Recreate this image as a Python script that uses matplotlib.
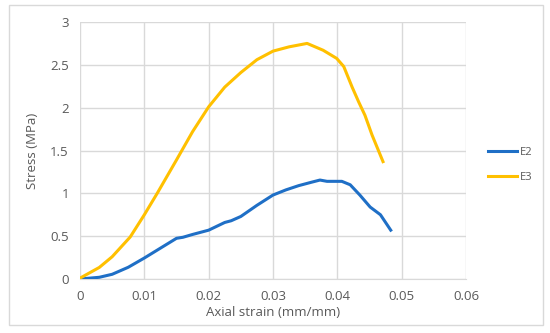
import matplotlib
matplotlib.use("Agg")
import matplotlib.pyplot as plt
from matplotlib.patches import Rectangle

plt.rcParams['font.family'] = ['Open Sans', 'DejaVu Sans']

e2_x = [0, 0.003, 0.005, 0.0075, 0.010, 0.0125, 0.015, 0.016, 0.0175, 0.020, 0.0225, 0.0235,
        0.025, 0.0275, 0.030, 0.032, 0.034, 0.036, 0.0373, 0.0384, 0.0407, 0.042, 0.0435,
        0.0451, 0.0467, 0.0483]
e2_y = [0, 0.02, 0.055, 0.137, 0.245, 0.36, 0.475, 0.487, 0.52, 0.57, 0.66, 0.68,
        0.73, 0.86, 0.98, 1.04, 1.09, 1.13, 1.155, 1.14, 1.14, 1.10, 0.98,
        0.84, 0.75, 0.57]

e3_x = [0, 0.003, 0.005, 0.0078, 0.010, 0.012, 0.015, 0.0175, 0.020, 0.0225, 0.025,
        0.0275, 0.030, 0.0325, 0.0353, 0.0378, 0.0399, 0.041, 0.0423, 0.0433, 0.0443,
        0.0454, 0.0471]
e3_y = [0.01, 0.135, 0.26, 0.49, 0.75, 1.0, 1.39, 1.72, 2.01, 2.24, 2.41,
        2.56, 2.66, 2.71, 2.75, 2.67, 2.575, 2.48, 2.24, 2.07, 1.91,
        1.68, 1.37]

x_ticks = [0, 0.01, 0.02, 0.03, 0.04, 0.05, 0.06]
x_labels = ['0', '0.01', '0.02', '0.03', '0.04', '0.05', '0.06']
y_ticks = [0, 0.5, 1, 1.5, 2, 2.5, 3]
y_labels = ['0', '0.5', '1', '1.5', '2', '2.5', '3']

fig = plt.figure(figsize=(5.5, 3.33), dpi=100)
fig.patches.append(Rectangle((9/550, 1 - 325/333), 534/550, 320/333, transform=fig.transFigure,
                             fill=False, edgecolor='#d9d9d9', linewidth=1))
ax = fig.add_axes([80/550, 1 - 279/333, 386/550, 257/333])

grid_c = '#d9d9d9'
ax.plot(e2_x, e2_y, color='#1f6fc6', lw=2.2, label='E2', solid_joinstyle='round', zorder=3)
ax.plot(e3_x, e3_y, color='#ffc000', lw=2.2, label='E3', solid_joinstyle='round', zorder=3)

ax.set_xlim(0, 0.06)
ax.set_ylim(0, 3)
ax.set_xticks(x_ticks)
ax.set_xticklabels(x_labels)
ax.set_yticks(y_ticks)
ax.set_yticklabels(y_labels)
ax.grid(True, color=grid_c, lw=1)
ax.set_axisbelow(True)
for s in ['top', 'right', 'left']:
    ax.spines[s].set_visible(False)
ax.spines['bottom'].set_color(grid_c)
ax.tick_params(length=0, colors='#595959', labelsize=9.5, pad=8)
ax.set_xlabel('Axial strain (mm/mm)', color='#595959', fontsize=9.5, labelpad=2)
ax.set_ylabel('Stress (MPa)', color='#595959', fontsize=9.5, labelpad=8)

leg = fig.legend(loc='center left', bbox_to_anchor=(478/550, 1 - 165/333), frameon=False,
                 fontsize=8, handlelength=2.6, labelspacing=1.2, handletextpad=0.3)
for t in leg.get_texts():
    t.set_color('#595959')

fig.savefig('out.png', dpi=100)
